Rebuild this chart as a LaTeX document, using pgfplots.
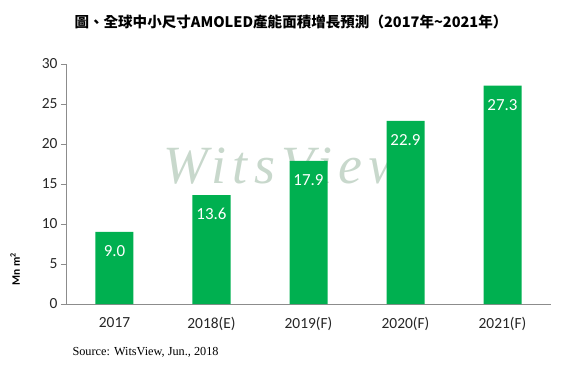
\documentclass[border=0pt]{standalone}
\usepackage{pgfplots}
\pgfplotsset{compat=1.18}
\usepackage{fontspec}
\setmainfont{Carlito}
\newfontfamily\cjk{Noto Sans CJK TC}
\newfontfamily\serif{Liberation Serif}
\newfontfamily\wmfont[LetterSpace=12]{Liberation Serif}
\definecolor{bargreen}{RGB}{0,176,80}
\definecolor{wm}{RGB}{200,216,204}
\begin{document}
\begin{tikzpicture}
\path[use as bounding box] (-66bp,-61bp) rectangle (504bp,304bp);
\node[font=\wmfont\itshape\fontsize{54}{54}\selectfont, text=wm, anchor=center] at (218bp,138bp) {WitsView};
\begin{axis}[
  scale only axis,
  width=485bp, height=240bp,
  xmin=-0.5, xmax=4.5, ymin=0, ymax=30,
  axis x line*=bottom, axis y line*=left,
  axis line style={draw=black!45, -},
  xtick={0,1,2,3,4},
  xticklabels={2017,2018(E),2019(F),2020(F),2021(F)},
  major x tick style={draw=none},
  extra x ticks={-0.5,0.5,1.5,2.5,3.5,4.5},
  extra x tick labels={},
  extra x tick style={major tick length=5bp, tick style={draw=black!45}},
  ytick={0,5,...,30},
  major tick length=5bp,
  tick align=outside,
  y tick style={draw=black!45},
  tick label style={font=\fontsize{15.5}{16}\selectfont, text=black!85},
  /pgf/number format/assume math mode=true,
  xticklabel style={yshift=-5bp},
  ylabel={Mn m\textsuperscript{2}},
  ylabel style={at={(axis description cs:-0.105,0.146)}, anchor=center, font=\bfseries\fontsize{11.5}{12}\selectfont, rotate=0},
  ybar, bar width=38bp,
  nodes near coords,
  nodes near coords style={font=\fontsize{17}{17}\selectfont, text=white, anchor=center, yshift=-19bp, /pgf/number format/.cd, fixed, fixed zerofill, precision=1},
  clip=false,
]
\addplot[fill=bargreen, draw=none] coordinates {(0,9.0) (1,13.6) (2,17.9) (3,22.9) (4,27.3)};
\end{axis}
\node[font=\cjk\bfseries\fontsize{14.6}{15}\selectfont, anchor=center] at (225bp,282bp) {圖、全球中小尺寸AMOLED產能面積增長預測（2017年\textasciitilde 2021年）};
\node[font=\serif\fontsize{12.3}{13}\selectfont, anchor=west] at (3bp,-48bp) {Source: WitsView, Jun., 2018};
\end{tikzpicture}
\end{document}
